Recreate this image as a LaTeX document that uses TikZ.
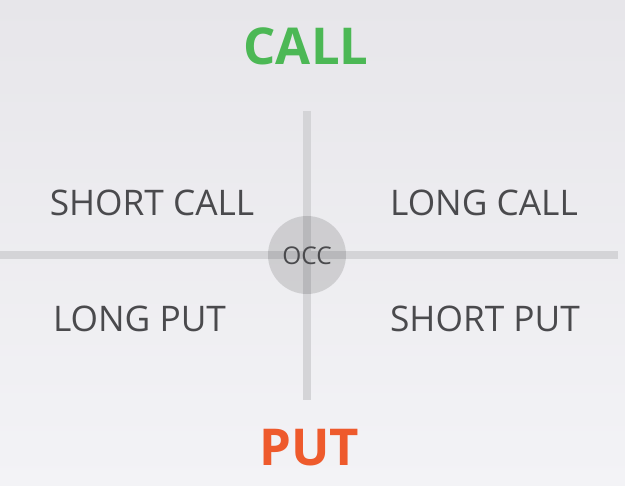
\documentclass[tikz,border=0pt]{standalone}
\usepackage{fontspec}
\setmainfont{Open Sans}
\definecolor{bgtop}{HTML}{E7E6EA}
\definecolor{bgbot}{HTML}{F3F3F6}
\definecolor{axisgray}{HTML}{D4D4D7}
\definecolor{labelgray}{HTML}{4A4A4D}
\definecolor{callgreen}{HTML}{4CB855}
\definecolor{putorange}{HTML}{EE5A2C}
\tikzset{
  quad/.style={anchor=base, inner sep=0pt, text=labelgray, font=\fontsize{35.4}{37}\selectfont},
  head/.style={anchor=base, inner sep=0pt, font=\fontsize{51}{53}\selectfont\bfseries},
  axis/.style={line width=8.5bp, draw=axisgray},
}
\begin{document}
\begin{tikzpicture}[x=1bp,y=-1bp]
\shade[top color=bgtop, bottom color=bgbot] (0,0) rectangle (625,486);
\useasboundingbox (0,0) rectangle (625,486);
\coordinate (hl) at (0,255);
\coordinate (hr) at (618,255);
\coordinate (vt) at (307,111);
\coordinate (vb) at (307,400);
\draw[axis] (hl) -- (hr);
\draw[axis] (vt) -- (vb);
\node[circle, minimum size=78bp, inner sep=0pt, fill=black, fill opacity=0.13] (occc) at (307,255) {};
\node[anchor=base, inner sep=0pt, text=labelgray, font=\fontsize{24.5}{26}\selectfont] (occ) at (307,264) {OCC};
\node[head, text=callgreen] (call) at (306,65) {CALL};
\node[head, text=putorange] (put) at (309,465) {PUT};
\node[quad] (sc) at (152,216) {SHORT CALL};
\node[quad] (lc) at (484,216) {LONG CALL};
\node[quad] (lp) at (139.5,331.7) {LONG PUT};
\node[quad] (sp) at (485,331.7) {SHORT PUT};
\end{tikzpicture}
\end{document}
